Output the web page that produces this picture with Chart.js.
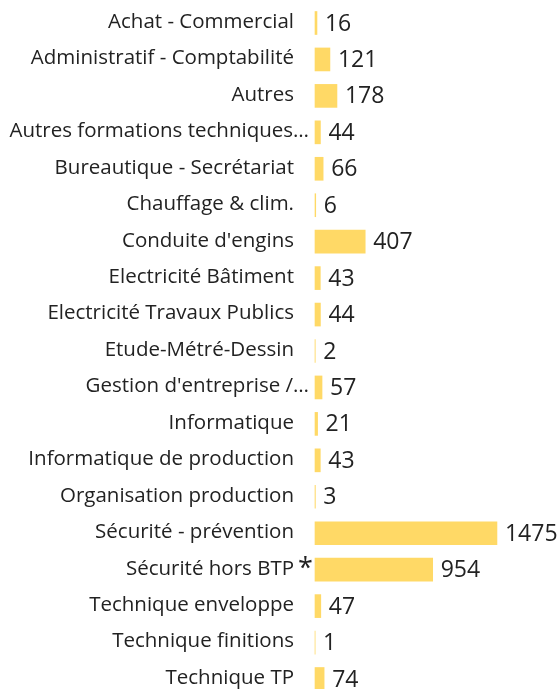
<!DOCTYPE html>
<html>
<head>
<meta charset="utf-8">
<script src="https://cdn.jsdelivr.net/npm/chart.js@4"></script>
<style>
  html, body { margin: 0; padding: 0; background: #fff; }
  #wrap { width: 559px; height: 689px; }
</style>
</head>
<body>
<div id="wrap"><canvas id="c" width="559" height="689"></canvas></div>
<script>
// ── Données ──
const categories = [
  'Achat - Commercial', 'Administratif - Comptabilité', 'Autres',
  'Autres formations techniques…', 'Bureautique - Secrétariat', 'Chauffage & clim.',
  "Conduite d'engins", 'Electricité Bâtiment', 'Electricité Travaux Publics',
  'Etude-Métré-Dessin', "Gestion d'entreprise /…", 'Informatique',
  'Informatique de production', 'Organisation production', 'Sécurité - prévention',
  'Sécurité hors BTP', 'Technique enveloppe', 'Technique finitions', 'Technique TP'
];
const values = [16, 121, 178, 44, 66, 6, 407, 43, 44, 2, 57, 21, 43, 3, 1475, 954, 47, 1, 74];
const starred = ['Sécurité hors BTP'];

const FONT = '"Open Sans", sans-serif';
const TXT = '#222';

// ── Labels à gauche, valeurs à droite, astérisque ──
const labelsPlugin = {
  id: 'labelsPlugin',
  afterDatasetsDraw(chart) {
    const ctx = chart.ctx;
    const meta = chart.getDatasetMeta(0);
    const yScale = chart.scales.y;
    ctx.save();
    ctx.fillStyle = TXT;
    ctx.textBaseline = 'middle';
    categories.forEach((cat, i) => {
      const y = yScale.getPixelForValue(i);
      ctx.font = '20.5px ' + FONT;
      ctx.textAlign = 'right';
      const right = cat.endsWith('…') ? 309 : 294;
      ctx.fillText(cat, right, y - 1);
      if (starred.includes(cat)) {
        ctx.save();
        ctx.font = '27px ' + FONT;
        ctx.textAlign = 'left';
        ctx.textBaseline = 'alphabetic';
        ctx.fillText('*', 298, y + 7);
        ctx.restore();
      }
      const bar = meta.data[i];
      ctx.font = '23px ' + FONT;
      ctx.textAlign = 'left';
      ctx.fillText(String(values[i]), bar.x + 8, y + 1);
    });
    ctx.restore();
  }
};

new Chart(document.getElementById('c').getContext('2d'), {
  type: 'bar',
  data: {
    labels: categories,
    datasets: [{
      data: values,
      backgroundColor: '#FFD966',
      borderWidth: 0,
      barThickness: 23,
      clip: false,
    }],
  },
  options: {
    indexAxis: 'y',
    responsive: false,
    animation: false,
    layout: { padding: { left: 315, right: 0, top: 23, bottom: 10 } },
    plugins: { legend: { display: false }, tooltip: { enabled: false } },
    scales: {
      x: { display: false, min: 0, max: 1978 },
      y: { display: false, offset: false },
    },
  },
  plugins: [labelsPlugin],
});
</script>
</body>
</html>
